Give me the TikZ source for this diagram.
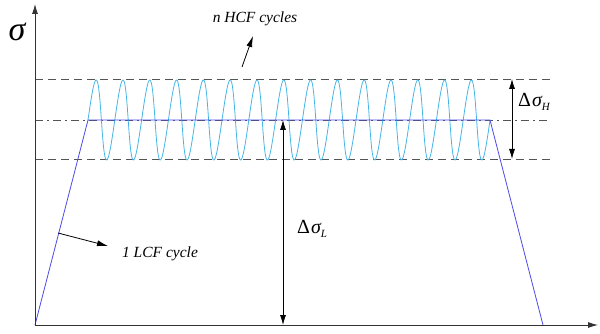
\documentclass[tikz,border=0pt]{standalone}
\usepackage{fontspec}
\setmainfont{Liberation Serif}
\usetikzlibrary{arrows.meta}
\definecolor{axisgray}{HTML}{333333}
\definecolor{guidegray}{HTML}{555555}
\definecolor{loadblue}{HTML}{4B4BE8}
\definecolor{cycleblue}{HTML}{45B5E8}
\newcommand{\dsig}[1]{Δ\kern1pt{\itshape σ}\raisebox{-4.5pt}{\fontsize{11}{11}\selectfont\itshape #1}}
\tikzset{
  axis/.style={draw=axisgray, line width=0.9pt, -{Latex[length=10pt,width=6pt]}},
  guide/.style={draw=guidegray, line width=0.8pt, dash pattern=on 8pt off 5pt},
  guidedd/.style={draw=guidegray, line width=0.8pt, dash pattern=on 8pt off 4pt on 2pt off 4pt},
  load/.style={draw=loadblue, line width=0.8pt},
  hcf/.style={draw=cycleblue, line width=0.8pt},
  dim/.style={draw=black, line width=0.8pt, {Latex[length=10pt,width=6pt]}-{Latex[length=10pt,width=6pt]}},
  pointer/.style={draw=black, line width=0.8pt, -{Latex[length=11pt,width=6pt]}},
  lbl/.style={font=\fontsize{15.5}{15.5}\selectfont\itshape, inner sep=0pt},
  mlbl/.style={font=\fontsize{20}{20}\selectfont, inner sep=0pt}
}
\begin{document}
\begin{tikzpicture}[x=1pt,y=-1pt]
\useasboundingbox (0,0) rectangle (600,334);
% coordinates
\coordinate (O) at (35,325);
\coordinate (ytop) at (35,4);
\coordinate (xend) at (598,325);
\coordinate (A) at (88,120);
\coordinate (B) at (490,120);
\coordinate (C) at (543,325);
\coordinate (tl) at (35,79);
\coordinate (tr) at (550,79);
\coordinate (ml) at (35,120);
\coordinate (mr) at (550,120);
\coordinate (bl) at (35,159);
\coordinate (br) at (550,159);
\coordinate (hT) at (512,79);
\coordinate (hB) at (512,159);
\coordinate (lT) at (283,120);
\coordinate (lB) at (283,325);
\coordinate (nfrom) at (242,67);
\coordinate (nto) at (253,36);
\coordinate (lfrom) at (58,233);
\coordinate (lto) at (108,246);
% guide lines
\draw[guide] (tl) -- (tr);
\draw[guide] (bl) -- (br);
\draw[guidedd] (ml) -- (mr);
% HCF cycles
\draw[hcf] plot[domain=0:5400, samples=900, smooth, variable=\t]
  ({88 + 0.0744444*\t + 1.5*sin(\t)}, {120 - 40*sin(\t)});
% LCF load path
\draw[load] (O) -- (A) -- (B) -- (C);
% axes
\draw[axis] (O) -- (ytop);
\draw[axis] (O) -- (xend);
% dimension arrows
\draw[dim] (hT) -- (hB);
\draw[dim] (lT) -- (lB);
% labels
\node[font=\fontsize{34}{34}\selectfont\itshape, inner sep=0pt] (sig) at (17,32) {σ};
\node[mlbl, anchor=west] (dH) at (518,102) {\dsig{H}};
\node[mlbl, anchor=west] (dL) at (297,229) {\dsig{L}};
\node[lbl] (ntext) at (255,19) {n HCF cycles};
\node[lbl] (ltext) at (160,254) {1 LCF cycle};
\draw[pointer] (nfrom) -- (nto);
\draw[pointer] (lfrom) -- (lto);
\end{tikzpicture}
\end{document}
